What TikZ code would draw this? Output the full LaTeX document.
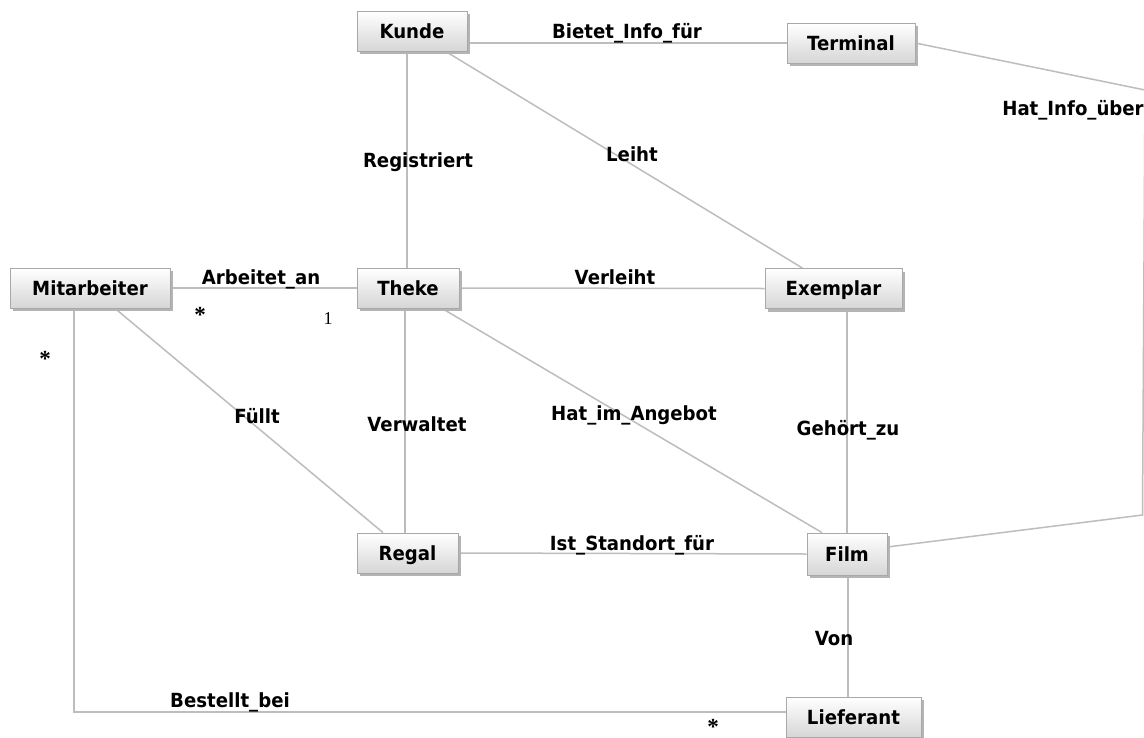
\documentclass[tikz,border=0pt]{standalone}
\usepackage{fontspec}
\newfontfamily\lbl{DejaVu Sans}[FakeStretch=0.93]
\newfontfamily\multfont{Liberation Serif}
\usetikzlibrary{shadows,backgrounds,calc}
\definecolor{edgegray}{HTML}{BDBDBD}
\definecolor{boxborder}{HTML}{A8A8A8}
\definecolor{boxbottom}{HTML}{D6D6D6}
\definecolor{shadowgray}{HTML}{B4B4B4}
\begin{document}
\begin{tikzpicture}[x=1pt,y=-1pt,
  entity/.style={rectangle, draw=boxborder, line width=0.8pt, top color=white, bottom color=boxbottom,
    minimum height=40pt, inner sep=0pt, text height=14pt, text depth=0pt,
    font=\lbl\bfseries\fontsize{19.5}{22}\selectfont,
    drop shadow={shadow xshift=3pt, shadow yshift=-3pt, fill=shadowgray, opacity=1}},
  rel/.style={anchor=base, inner sep=0pt, font=\lbl\bfseries\fontsize{19.5}{22}\selectfont},
  mult/.style={anchor=base, inner sep=0pt, font=\multfont\fontsize{18}{20}\selectfont},
  star/.style={anchor=center, inner sep=0pt, font=\multfont\bfseries\fontsize{23}{25}\selectfont},
  conn/.style={draw=edgegray, line width=1.5pt}]
\useasboundingbox (0,0) rectangle (1144,737);

% entities
\node[entity, minimum width=110pt] (Kunde) at (412,31) {Kunde};
\node[entity, minimum width=128pt] (Terminal) at (851,43) {Terminal};
\node[entity, minimum width=160pt] (Mitarbeiter) at (90,288) {Mitarbeiter};
\node[entity, minimum width=102pt] (Theke) at (408,288) {Theke};
\node[entity, minimum width=137pt] (Exemplar) at (833.5,288.5) {Exemplar};
\node[entity, minimum width=101pt] (Regal) at (407.5,553) {Regal};
\node[entity, minimum width=80pt, minimum height=42pt] (Film) at (847,554) {Film};
\node[entity, minimum width=135pt] (Lieferant) at (853.5,717) {Lieferant};

\coordinate (tr) at (1145,90);
\coordinate (br) at (1142.5,515);

% connectors
\begin{scope}[on background layer]
\fill[white] (0,0) rectangle (1144,737);
\draw[conn] (Kunde.east |- Terminal.west) -- (Terminal.west);
\draw[conn] (Kunde.south -| 407,0) -- (Theke.north -| 407,0);
\draw[conn] (Kunde.center) -- ([xshift=-31pt]Exemplar.north);
\draw[conn] (Mitarbeiter.east) -- (Theke.west);
\draw[conn] (Theke.east) -- (Exemplar.west);
\draw[conn] ([xshift=25pt]Mitarbeiter.south) -- ([xshift=-24.5pt]Regal.north);
\draw[conn] (Theke.south -| 405,0) -- (Regal.north -| 405,0);
\draw[conn] ([xshift=34pt]Theke.south) -- ([xshift=-25pt]Film.north);
\draw[conn] (Exemplar.south -| Film.north) -- (Film.north);
\draw[conn] (Regal.east) -- (Film.west);
\draw[conn] (Film.south -| 848,0) -- (Lieferant.north -| 848,0);
\draw[conn] (Mitarbeiter.south -| 74,0) |- ([yshift=5pt]Lieferant.west);
\draw[conn] (Terminal.east) -- (tr) -- (br) -- ([yshift=7pt]Film.east);
\end{scope}

% relation labels
\node[rel] (l1) at (627,38) {Bietet\_Info\_für};
\node[rel] (l2) at (1073,115) {Hat\_Info\_über};
\node[rel] (l3) at (418,167) {Registriert};
\node[rel] (l4) at (632,161) {Leiht};
\node[rel] (l5) at (261,284) {Arbeitet\_an};
\node[rel] (l6) at (615,284) {Verleiht};
\node[rel] (l7) at (257,423) {Füllt};
\node[rel] (l8) at (417,431) {Verwaltet};
\node[rel] (l9) at (634,420) {Hat\_im\_Angebot};
\node[rel] (l10) at (848,435) {Gehört\_zu};
\node[rel] (l11) at (632,550) {Ist\_Standort\_für};
\node[rel] (l12) at (834,645) {Von};
\node[rel] (l13) at (230,707) {Bestellt\_bei};

% multiplicities
\node[star] (m1) at (200,315) {*};
\node[mult] (m2) at (328,324) {1};
\node[star] (m3) at (45,359) {*};
\node[star] (m4) at (713,727) {*};
\end{tikzpicture}
\end{document}
